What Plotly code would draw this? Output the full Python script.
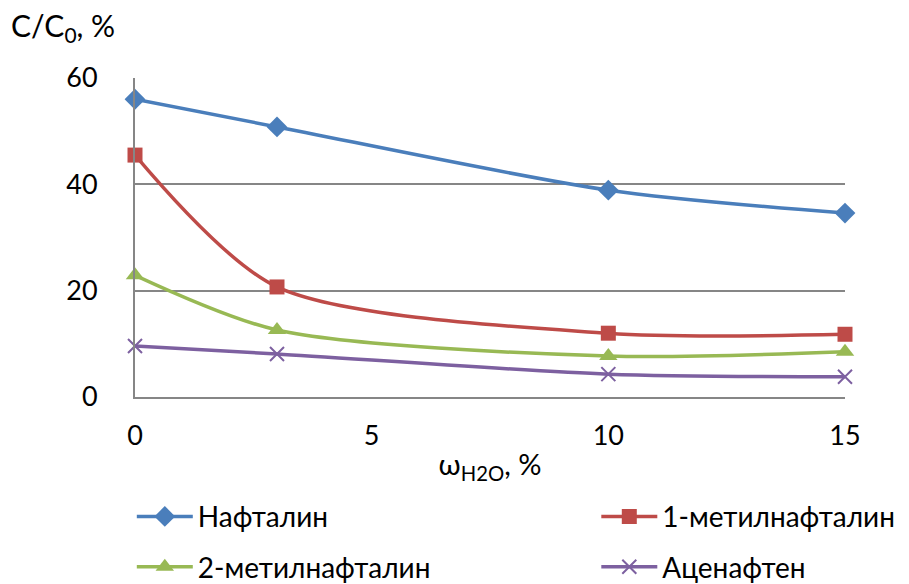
import plotly.graph_objects as go

# Water content, %
water = [0, 3, 10, 15]

# Relative residual concentration C/C0, %
naphthalene = [56.0, 50.8, 38.9, 34.6]
methyl1 = [45.5, 20.7, 12.0, 11.8]
methyl2 = [22.9, 12.6, 7.7, 8.5]
acenaphthene = [9.6, 8.1, 4.3, 3.8]

names = ["Нафталин", "1-метилнафталин", "2-метилнафталин", "Аценафтен"]
colors = ["#4A7EBB", "#BE4B48", "#98B954", "#7D60A0"]
symbols = ["diamond", "square", "triangle-up", "x-thin-open"]
sizes = [16, 15, 16, 14]
series = [naphthalene, methyl1, methyl2, acenaphthene]
# left legend column holds series 0 and 2, right column series 1 and 3
legend_ids = ["legend", "legend2", "legend", "legend2"]

FONT = "Lato, Carlito, Calibri, sans-serif"

fig = go.Figure()
for i, (name, ys, col, sym, sz) in enumerate(zip(names, series, colors, symbols, sizes)):
    marker = dict(symbol=sym, size=sz, color=col)
    if sym == "x-thin-open":
        marker["line"] = dict(color=col, width=2)
    fig.add_trace(go.Scatter(
        x=water, y=ys, name=name, mode="lines+markers",
        line=dict(color=col, width=3.5, shape="spline", smoothing=0.8),
        marker=marker, legend=legend_ids[i], legendgroup=f"g{i}",
        cliponaxis=False,
    ))

legend_style = dict(
    orientation="v", yref="container", y=0.158, yanchor="top",
    xref="container", xanchor="left",
    font=dict(size=28), itemwidth=56, tracegroupgap=11,
    bgcolor="rgba(0,0,0,0)",
)

fig.update_layout(
    width=909, height=584,
    margin=dict(l=135, r=64, t=78, b=187, autoexpand=False),
    paper_bgcolor="white", plot_bgcolor="white",
    font=dict(family=FONT, size=27, color="black"),
    xaxis=dict(
        range=[0, 15], tickvals=[0, 5, 10, 15], showgrid=False,
        showline=True, linecolor="#868686", linewidth=2,
        ticks="", zeroline=False, ticklabelstandoff=14,
        title=dict(text="ω<sub>H2O</sub>, %", standoff=4,
                   font=dict(size=29)),
    ),
    yaxis=dict(
        range=[0, 60], tickvals=[0, 20, 40, 60], showgrid=True,
        gridcolor="#868686", gridwidth=2,
        showline=True, linecolor="#868686", linewidth=2,
        ticks="", zeroline=False, ticklabelstandoff=30,
    ),
    legend=dict(legend_style, x=0.145),
    legend2=dict(legend_style, x=0.656),
    annotations=[dict(
        text="C/C<sub>0</sub>, %", xref="paper", yref="paper",
        x=-0.178, y=1.16, xanchor="left", yanchor="middle",
        showarrow=False, font=dict(size=30),
    )],
)

fig.write_html("out.html")
